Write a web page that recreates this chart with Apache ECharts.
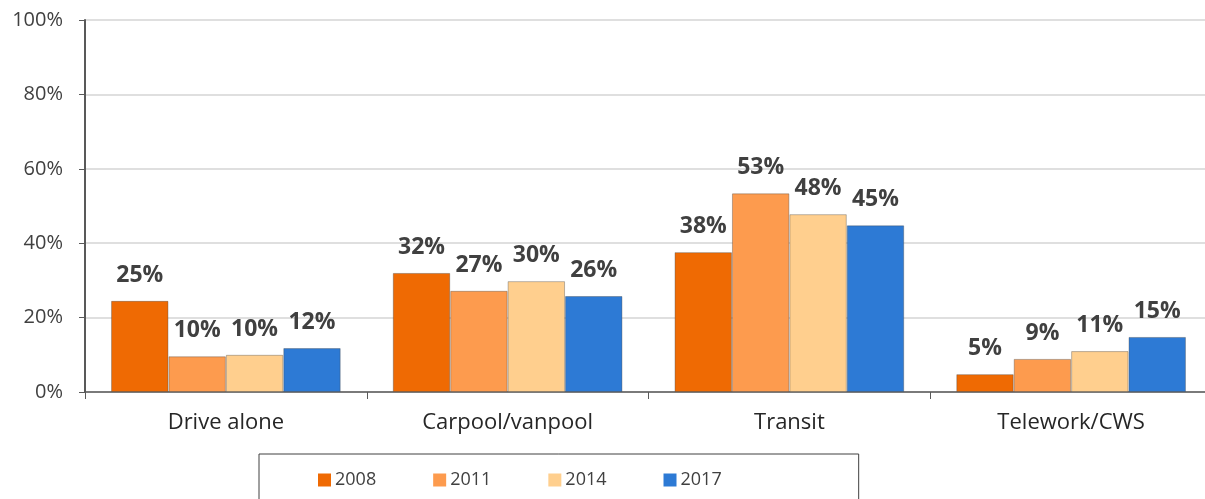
<!DOCTYPE html>
<html>
<head>
<meta charset="utf-8">
<script src="https://cdn.jsdelivr.net/npm/echarts@6/dist/echarts.min.js"></script>
<style>
html,body{margin:0;padding:0;background:#fff;}
#chart{width:1205px;height:499px;}
</style>
</head>
<body>
<div id="chart"></div>
<script>
// modes of travel, share per survey year
const categories = ["Drive alone", "Carpool/vanpool", "Transit", "Telework/CWS"]
const years = ["2008", "2011", "2014", "2017"]
const v2008 = [24.5, 32.0, 37.6, 4.8]
const v2011 = [9.6, 27.2, 53.4, 8.9]
const v2014 = [10.0, 29.8, 47.8, 11.0]
const v2017 = [11.8, 25.8, 44.8, 14.8]
const yTicks = [0, 20, 40, 60, 80, 100]

const colors = ["#ef6a03", "#fd9b4e", "#ffcf8e", "#2d7ad5"]
const font = "'Open Sans', 'Liberation Sans', sans-serif"

let myChart = echarts.init(document.getElementById("chart"))

let series = [v2008, v2011, v2014, v2017].map((vals, i) => ({
    name: years[i],
    type: "bar",
    data: vals,
    barGap: "0%",
    barCategoryGap: "18.5%",
    itemStyle: {
        color: colors[i],
        borderColor: "rgba(60,60,60,0.35)",
        borderWidth: 1
    },
    label: {
        show: true,
        position: "top",
        distance: 14,
        formatter: p => Math.round(p.value) + "%",
        color: "#404040",
        fontSize: 23,
        fontWeight: "bold",
        fontFamily: font
    }
}))

let option = {
    animation: false,
    textStyle: { fontFamily: font },
    // plot runs a little past the right edge, like the cropped original
    grid: { left: 85, width: 1127, top: 20, bottom: 107, outerBoundsMode: "none", containLabel: false },
    legend: {
        data: years,
        left: 259,
        top: 454,
        padding: [17, 137, 40, 59],
        itemGap: 57,
        itemWidth: 13,
        itemHeight: 13,
        itemStyle: { borderWidth: 0 },
        icon: "rect",
        borderColor: "#404040",
        borderWidth: 1,
        textStyle: { fontSize: 18, color: "#404040", fontFamily: font, padding: [0, 0, 0, -1] }
    },
    xAxis: {
        type: "category",
        data: categories,
        axisLine: { lineStyle: { color: "#595959", width: 1.5 } },
        axisTick: { show: true, length: 7, lineStyle: { color: "#595959" } },
        axisLabel: { color: "#262626", fontSize: 22, margin: 20, fontFamily: font }
    },
    yAxis: {
        type: "value",
        min: yTicks[0],
        max: yTicks[yTicks.length - 1],
        interval: 20,
        axisLine: { show: true, lineStyle: { color: "#595959", width: 2 } },
        axisTick: { show: true, length: 6, lineStyle: { color: "#595959" } },
        splitLine: { lineStyle: { color: "#d4d4d4", width: 1.5 } },
        axisLabel: { formatter: "{value}%", color: "#404040", fontSize: 20, margin: 22, fontFamily: font }
    },
    series: series
}
myChart.setOption(option)
</script>
</body>
</html>
